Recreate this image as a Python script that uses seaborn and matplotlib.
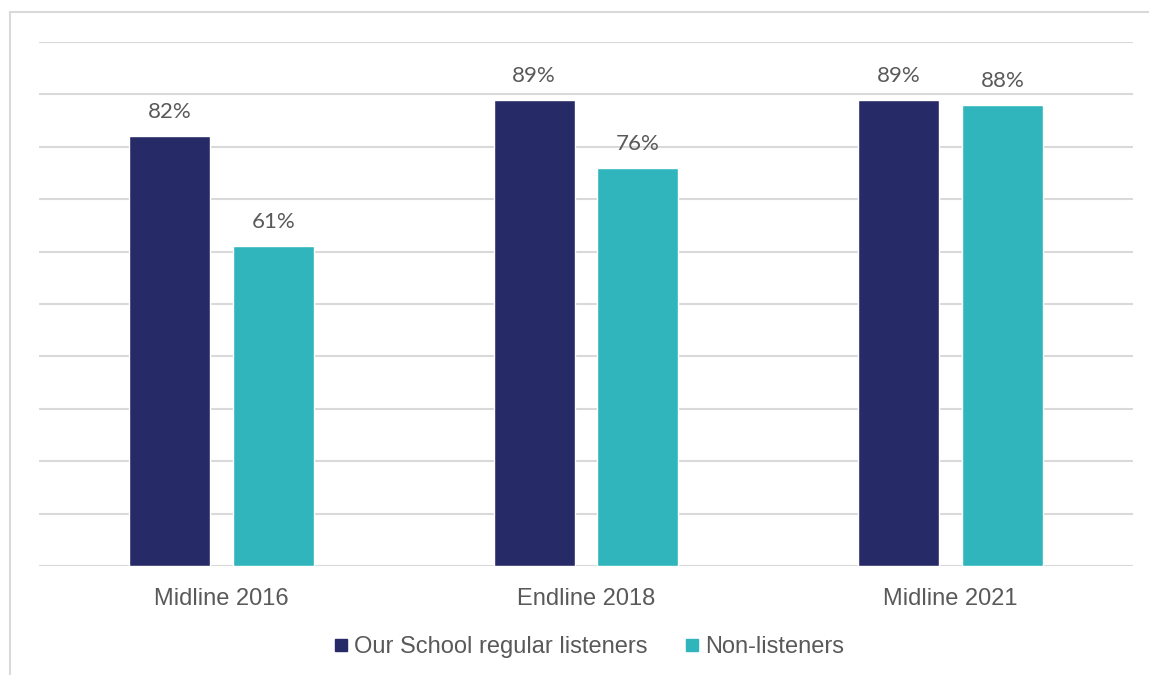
import matplotlib
matplotlib.use("Agg")
import matplotlib.pyplot as plt
from matplotlib.patches import Rectangle
from matplotlib.lines import Line2D
import seaborn as sns
import pandas as pd

# Survey rounds and share of respondents per group (percent)
rounds = ["Midline 2016", "Endline 2018", "Midline 2021"]
groups = ["Our School regular listeners", "Non-listeners"]
listeners = [82, 89, 89]
non_listeners = [61, 76, 88]
y_ticks = [0, 10, 20, 30, 40, 50, 60, 70, 80, 90, 100]

colors = {"Our School regular listeners": "#262A66", "Non-listeners": "#30B5BC"}
text_gray = "#595959"
grid_gray = "#D9D9D9"

df = pd.DataFrame({
    "round": rounds * 2,
    "group": [groups[0]] * 3 + [groups[1]] * 3,
    "value": listeners + non_listeners,
})

sns.set_theme(style="white")
plt.rcParams["font.family"] = ["Liberation Sans", "DejaVu Sans"]

W, H = 1149, 675
fig = plt.figure(figsize=(W / 100, H / 100), dpi=100)

# outer frame of the chart area
fig.patches.append(Rectangle((10 / W, -0.1), 1.2, 1.1 - 12 / H,
                             transform=fig.transFigure, fill=False,
                             edgecolor=grid_gray, linewidth=1.5, zorder=0))

ax = fig.add_axes([39 / W, (H - 566) / H, 1094 / W, 524 / H])
sns.barplot(data=df, x="round", y="value", hue="group", order=rounds,
            hue_order=groups, palette=colors, width=0.57, gap=0.221,
            saturation=1, ax=ax, legend=False, zorder=3)

ax.set_ylim(0, 100)
ax.set_xlim(-0.5, 2.5)
ax.set_yticks(y_ticks)
ax.yaxis.grid(True, color=grid_gray, linewidth=1.5, zorder=0)
ax.set_axisbelow(True)
ax.tick_params(axis="y", left=False, labelleft=False)
ax.tick_params(axis="x", bottom=False, labelsize=17, colors=text_gray, pad=10)
ax.set_xlabel("")
ax.set_ylabel("")
for s in ax.spines.values():
    s.set_visible(False)

for cont in ax.containers:
    ax.bar_label(cont, labels=[f"{v:.0f}%" for v in cont.datavalues],
                 padding=10, fontsize=16, color=text_gray,
                 family=["Lato", "DejaVu Sans"])

handles = [Line2D([], [], marker="s", linestyle="none", markersize=9,
                  markerfacecolor=colors[g], markeredgecolor=colors[g])
           for g in groups]
fig.legend(handles, groups, loc="center", bbox_to_anchor=(589 / W, 1 - 647 / H),
           ncol=2, frameon=False, fontsize=17, labelcolor=text_gray,
           handletextpad=0.25, columnspacing=1.6, handlelength=0.6)

fig.savefig("out.png", dpi=100)
